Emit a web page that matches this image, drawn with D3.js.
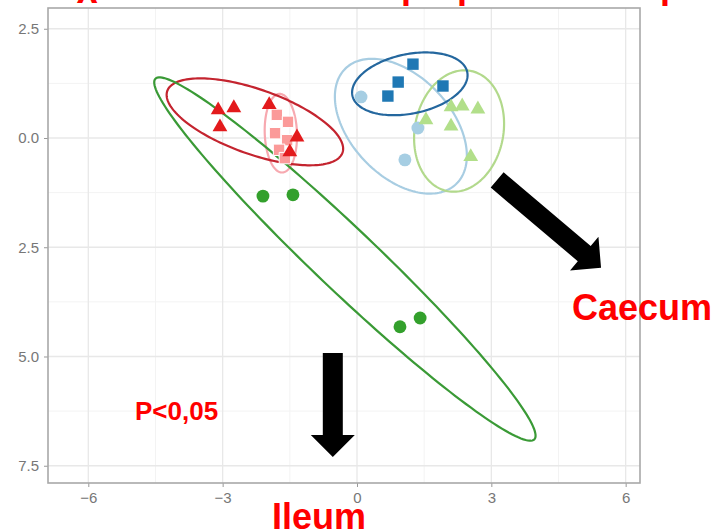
<!DOCTYPE html>
<html><head><meta charset="UTF-8">
<title>PCA ellipses</title>
<script src="https://d3js.org/d3.v7.min.js"></script>
<style>
  body { margin: 0; background: #fff; }
  text { font-family: "Liberation Sans", Arial, sans-serif; }
</style>
</head>
<body>
<svg width="715" height="531"></svg>
<script>
  // tick values
  const xTicks = [-6, -3, 0, 3, 6]
  const yTicks = [2.5, 0, -2.5, -5, -7.5]

  // groups (Paired palette) and their points
  const groups = ["ileumA", "ileumB", "caecumA", "caecumB", "ileumC", "caecumC"]
  const colors = ["#33a02c", "#e31a1c", "#1f78b4", "#b2df8a", "#fb9a99", "#a6cee3"]
  const lineColors = ["#3a9a36", "#c4242f", "#24679e", "#b2d98c", "#f7a9b0", "#a8cde2"]
  const shapes = ["circle", "triangle", "square", "triangle", "square", "circle"]

  const ileumA = [[-2.10, -1.33], [-1.43, -1.30], [0.96, -4.32], [1.41, -4.12]]
  const ileumB = [[-3.10, 0.64], [-2.75, 0.69], [-3.06, 0.25], [-1.96, 0.76], [-1.34, 0.02], [-1.50, -0.32]]
  const ileumC = [[-1.79, 0.53], [-1.54, 0.37], [-1.83, 0.11], [-1.56, -0.05], [-1.74, -0.27], [-1.61, -0.46]]
  const caecumA = [[1.25, 1.69], [0.92, 1.28], [0.69, 0.96], [1.92, 1.19]]
  const caecumB = [[1.54, 0.41], [2.10, 0.71], [2.35, 0.73], [2.70, 0.66], [2.10, 0.27], [2.54, -0.43]]
  const caecumC = [[0.09, 0.94], [1.36, 0.23], [1.07, -0.50]]
  const points = { ileumA, ileumB, ileumC, caecumA, caecumB, caecumC }

  // confidence ellipses: [cx, cy, semi-major, semi-minor, angle deg]
  const ellipses = {
    caecumC: [0.98, 0.27, 1.81, 1.13, -48],
    caecumB: [2.28, 0.16, 1.40, 0.99, 80],
    caecumA: [1.18, 1.24, 1.31, 0.68, 12],
    ileumC: [-1.70, 0.11, 0.90, 0.36, 92],
    ileumB: [-2.28, 0.37, 2.08, 0.74, -20],
    ileumA: [-0.27, -2.77, 5.91, 0.70, -44.3]
  }

  // annotation arrows [x1, y1, x2, y2] in data units
  const arrows = [[-0.54, -4.92, -0.54, -7.30], [3.13, -0.96, 5.45, -2.97]]

  const svg = d3.select("svg")

  const x = d3.scaleLinear().domain([-6.9, 6.32]).range([48, 640])
  const y = d3.scaleLinear().domain([2.975, -7.895]).range([8, 483])

  // grid
  const minorX = d3.range(-7.5, 7.6, 1.5).filter(v => xTicks.indexOf(v) < 0 && v > -6.9 && v < 6.32)
  const minorY = d3.range(-8.75, 3.8, 1.25).filter(v => yTicks.indexOf(v) < 0 && v > -7.895 && v < 2.975)
  const grid = svg.append("g")
  grid.selectAll(".mx").data(minorX).join("line")
    .attr("x1", d => x(d)).attr("x2", d => x(d)).attr("y1", 8).attr("y2", 483)
    .attr("stroke", "#f3f3f3").attr("stroke-width", 1)
  grid.selectAll(".my").data(minorY).join("line")
    .attr("y1", d => y(d)).attr("y2", d => y(d)).attr("x1", 48).attr("x2", 640)
    .attr("stroke", "#f3f3f3").attr("stroke-width", 1)
  grid.selectAll(".gx").data(xTicks).join("line")
    .attr("x1", d => x(d)).attr("x2", d => x(d)).attr("y1", 8).attr("y2", 483)
    .attr("stroke", "#e8e8e8").attr("stroke-width", 1.3)
  grid.selectAll(".gy").data(yTicks).join("line")
    .attr("y1", d => y(d)).attr("y2", d => y(d)).attr("x1", 48).attr("x2", 640)
    .attr("stroke", "#e8e8e8").attr("stroke-width", 1.3)

  // axes
  const xAxis = svg.append("g").attr("transform", "translate(0,483)")
    .call(d3.axisBottom(x).tickValues(xTicks).tickSize(4).tickPadding(5))
  const yAxis = svg.append("g").attr("transform", "translate(48,0)")
    .call(d3.axisLeft(y).tickValues(yTicks).tickSize(4).tickPadding(5)
      .tickFormat(d => d3.format(".1f")(Math.abs(d))))
  for (const ax of [xAxis, yAxis]) {
    ax.select(".domain").remove()
    ax.selectAll("line").attr("stroke", "#999")
    ax.selectAll("text").attr("fill", "#777").style("font-size", "15px")
      .style("font-family", "'Liberation Sans', Arial, sans-serif")
  }

  svg.append("rect").attr("x", 48).attr("y", 8).attr("width", 592).attr("height", 475)
    .attr("fill", "none").attr("stroke", "#a8a8a8").attr("stroke-width", 1.6)

  // ellipses
  const line = d3.line().curve(d3.curveLinearClosed)
  function ellipsePts(e) {
    const [cx, cy, a, b, ang] = e
    const p = ang * Math.PI / 180
    return d3.range(0, 2 * Math.PI, Math.PI / 90).map(t => {
      const dx = a * Math.cos(t) * Math.cos(p) - b * Math.sin(t) * Math.sin(p)
      const dy = a * Math.cos(t) * Math.sin(p) + b * Math.sin(t) * Math.cos(p)
      return [x(cx + dx), y(cy + dy)]
    })
  }
  svg.append("g").selectAll("path")
    .data(Object.keys(ellipses))
    .join("path")
    .attr("d", g => line(ellipsePts(ellipses[g])))
    .attr("fill", "none")
    .attr("stroke", g => lineColors[groups.indexOf(g)])
    .attr("stroke-width", 2.2)

  // points
  const symType = { circle: d3.symbolCircle, triangle: d3.symbolTriangle, square: d3.symbolSquare }
  const symSize = { circle: 130, triangle: 95, square: 130 }
  const order = ["caecumC", "caecumA", "caecumB", "ileumC", "ileumB", "ileumA"]
  for (const g of order) {
    const i = groups.indexOf(g)
    svg.append("g").selectAll("path")
      .data(points[g])
      .join("path")
      .attr("transform", d => "translate(" + x(d[0]) + "," + y(d[1]) + ")")
      .attr("d", d3.symbol().type(symType[shapes[i]]).size(symSize[shapes[i]]))
      .attr("fill", colors[i])
      .attr("stroke", g === "ileumC" ? "#fff" : "none")
      .attr("stroke-width", 1)
  }

  // arrows
  function arrowPath(a) {
    const x1 = x(a[0]), y1 = y(a[1]), x2 = x(a[2]), y2 = y(a[3])
    const len = Math.hypot(x2 - x1, y2 - y1)
    const ux = (x2 - x1) / len, uy = (y2 - y1) / len
    const nx = -uy, ny = ux
    const sw = 10, hw = 22, hl = 22
    const bx = x2 - ux * hl, by = y2 - uy * hl
    const pts = [
      [x1 + nx * sw, y1 + ny * sw], [bx + nx * sw, by + ny * sw], [bx + nx * hw, by + ny * hw],
      [x2, y2], [bx - nx * hw, by - ny * hw], [bx - nx * sw, by - ny * sw], [x1 - nx * sw, y1 - ny * sw]
    ]
    return "M" + pts.map(p => p.join(",")).join("L") + "Z"
  }
  svg.append("g").selectAll("path").data(arrows).join("path")
    .attr("d", arrowPath).attr("fill", "#000")

  // annotations
  svg.append("text").attr("x", 572).attr("y", 320).text("Caecum")
    .attr("fill", "#ff0000").style("font-weight", "bold").style("font-size", "36px")
  svg.append("text").attr("x", 272).attr("y", 529).text("Ileum")
    .attr("fill", "#ff0000").style("font-weight", "bold").style("font-size", "36px")
  svg.append("text").attr("x", 135).attr("y", 420).text("P<0,05")
    .attr("fill", "#ff0000").style("font-weight", "bold").style("font-size", "26px")

  // clipped title fragments along the top edge
  svg.append("text").attr("x", 87).attr("y", -5).attr("text-anchor", "middle").text("χ")
    .attr("fill", "#ff0000").style("font-weight", "bold").style("font-size", "36px")
  for (const px of [401, 457, 660]) {
    svg.append("text").attr("x", px).attr("y", -2).text("p")
      .attr("fill", "#ff0000").style("font-weight", "bold").style("font-size", "36px")
  }
</script>
</body></html>
